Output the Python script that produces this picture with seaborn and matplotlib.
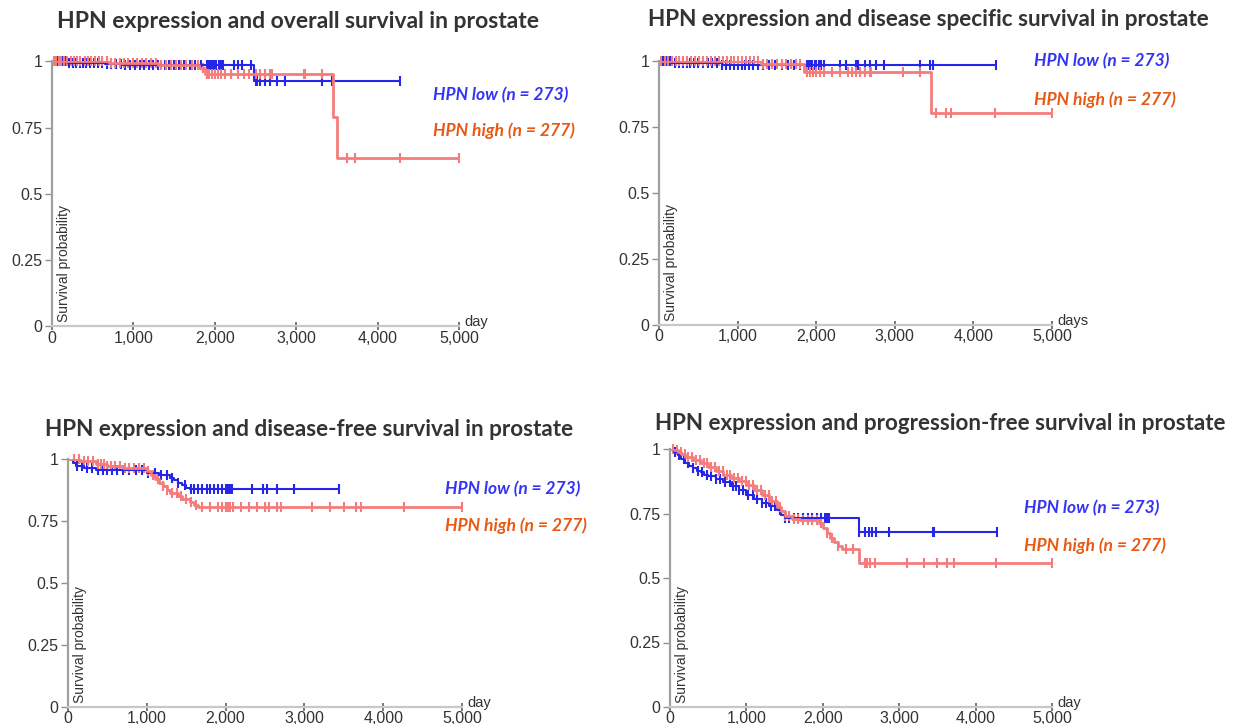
import numpy as np
import pandas as pd
import matplotlib
matplotlib.use("Agg")
import matplotlib.pyplot as plt
import seaborn as sns

# ---------------- data ----------------
titles = [
    "HPN expression and overall survival in prostate",
    "HPN expression and disease specific survival in prostate",
    "HPN expression and disease-free survival in prostate",
    "HPN expression and progression-free survival in prostate",
]
label_low = "HPN low (n = 273)"
label_high = "HPN high (n = 277)"
x_ticks = [0, 1000, 2000, 3000, 4000, 5000]
x_ticklabels = ["0", "1,000", "2,000", "3,000", "4,000", "5,000"]
y_ticks = [0, 0.25, 0.5, 0.75, 1]
y_ticklabels = ["0", "0.25", "0.5", "0.75", "1"]
day_labels = ["day", "days", "day", "day"]

# Overall survival
os_low_t = [0, 200, 650, 870, 1350, 2480]
os_low_s = [1.0, 0.995, 0.99, 0.987, 0.985, 0.925]
os_low_end = 4280
os_low_cens = [30, 60, 90, 130, 170, 210, 260, 300, 340, 380, 420, 470, 520, 560, 610, 680,
               730, 790, 850, 900, 960, 1020, 1080, 1130, 1190, 1240, 1300, 1390, 1440, 1500,
               1560, 1620, 1700, 1760, 1830, 1900, 1920, 1940, 1960, 1980, 2000, 2020, 2050,
               2080, 2100, 2230, 2290, 2340, 2450, 2500, 2520, 2560, 2620, 2680, 2760, 2860,
               3320, 3440, 4280]
os_high_t = [0, 700, 1300, 1800, 1880, 3450, 3500]
os_high_s = [1.0, 0.993, 0.985, 0.975, 0.952, 0.79, 0.635]
os_high_end = 5000
os_high_cens = [20, 50, 80, 110, 150, 190, 230, 270, 310, 350, 400, 440, 480, 530, 580, 620,
                680, 720, 780, 830, 880, 930, 990, 1050, 1100, 1160, 1220, 1280, 1340, 1400,
                1460, 1520, 1580, 1650, 1720, 1790, 1860, 1900, 1930, 1960, 2000, 2040, 2080,
                2120, 2200, 2280, 2360, 2420, 2500, 2560, 2620, 2680, 2700, 3100, 3110, 3320,
                3620, 3720, 4270, 5000]

# Disease specific survival
dss_low_t = [0, 150, 800]
dss_low_s = [1.0, 0.995, 0.988]
dss_low_end = 4285
dss_low_cens = [50, 90, 140, 200, 250, 300, 350, 400, 450, 500, 560, 620, 680, 740, 800,
                850, 900, 950, 1000, 1050, 1100, 1150, 1200, 1260, 1320, 1400, 1480, 1560,
                1640, 1720, 1800, 1880, 1900, 1920, 1950, 1980, 2000, 2030, 2060, 2100, 2300,
                2380, 2500, 2530, 2620, 2680, 2760, 2860, 3320, 3450, 3480, 4285]
dss_high_t = [0, 1300, 1850, 3460]
dss_high_s = [1.0, 0.99, 0.962, 0.804]
dss_high_end = 5000
dss_high_cens = [30, 70, 110, 160, 210, 260, 310, 360, 410, 460, 510, 560, 610, 660, 710,
                 760, 810, 860, 910, 960, 1010, 1060, 1110, 1160, 1210, 1260, 1320, 1380,
                 1440, 1500, 1560, 1620, 1680, 1740, 1800, 1880, 1920, 1960, 2000, 2050, 2100,
                 2200, 2300, 2400, 2450, 2500, 2560, 2620, 2680, 2700, 3100, 3320, 3520,
                 3650, 3720, 4270, 5000]

# Disease-free survival
dfs_low_t = [0, 60, 100, 200, 350, 1000, 1150, 1300, 1350, 1400, 1450, 1500, 1550]
dfs_low_s = [1.0, 0.985, 0.973, 0.965, 0.955, 0.945, 0.935, 0.925, 0.915, 0.905, 0.895,
             0.885, 0.878]
dfs_low_end = 3440
dfs_low_cens = [120, 180, 240, 300, 380, 440, 500, 560, 620, 700, 780, 860, 940, 1020, 1100,
                1180, 1260, 1320, 1400, 1480, 1560, 1600, 1650, 1700, 1760, 1800, 1850, 1900,
                1950, 2000, 2030, 2060, 2080, 2330, 2480, 2530, 2650, 2870, 3440]
dfs_high_t = [0, 150, 350, 500, 700, 1000, 1050, 1100, 1150, 1200, 1250, 1300, 1400, 1450,
              1550, 1600, 1650]
dfs_high_s = [1.0, 0.99, 0.98, 0.973, 0.962, 0.95, 0.935, 0.92, 0.905, 0.89, 0.875, 0.862,
              0.85, 0.838, 0.825, 0.815, 0.808]
dfs_high_end = 5000
dfs_high_cens = [80, 140, 200, 260, 320, 380, 420, 460, 500, 540, 600, 660, 720, 780, 840,
                 900, 960, 1020, 1080, 1140, 1200, 1260, 1320, 1380, 1440, 1500, 1560, 1620,
                 1700, 1800, 1900, 1950, 2000, 2030, 2060, 2100, 2200, 2300, 2400, 2500, 2550,
                 2650, 2700, 3100, 3320, 3500, 3650, 3720, 4270, 5000]

# Progression-free survival
pfs_low_t = [0, 50, 100, 150, 200, 250, 300, 350, 400, 450, 500, 600, 700, 800, 900, 1000,
             1100, 1200, 1300, 1400, 1450, 1500, 2480]
pfs_low_s = [1.0, 0.99, 0.975, 0.96, 0.945, 0.935, 0.925, 0.915, 0.91, 0.9, 0.895, 0.885,
             0.872, 0.858, 0.84, 0.82, 0.805, 0.79, 0.78, 0.765, 0.745, 0.732, 0.678]
pfs_low_end = 4280
pfs_low_cens = [60, 120, 180, 240, 300, 360, 420, 480, 540, 600, 660, 720, 780, 820, 860, 900,
                960, 1020, 1080, 1140, 1200, 1260, 1320, 1380, 1440, 1500, 1560, 1620, 1680,
                1740, 1800, 1860, 1920, 1980, 2030, 2060, 2080, 2480, 2550, 2600, 2650, 2700,
                2870, 3440, 3460, 4280]
pfs_high_t = [0, 50, 100, 150, 200, 300, 400, 500, 600, 700, 800, 900, 1000, 1100, 1200,
              1300, 1400, 1450, 1500, 1600, 1700, 1950, 2000, 2050, 2100, 2150, 2200, 2250,
              2480]
pfs_high_s = [1.0, 0.995, 0.99, 0.98, 0.97, 0.958, 0.945, 0.93, 0.915, 0.9, 0.888, 0.875,
              0.86, 0.84, 0.82, 0.8, 0.775, 0.76, 0.742, 0.73, 0.725, 0.712, 0.695, 0.673,
              0.655, 0.64, 0.625, 0.614, 0.557]
pfs_high_end = 5000
pfs_high_cens = [40, 90, 140, 190, 240, 290, 340, 390, 440, 490, 540, 590, 640, 690, 740, 790,
                 840, 890, 940, 990, 1040, 1090, 1140, 1190, 1240, 1290, 1340, 1390, 1440,
                 1500, 1560, 1620, 1680, 1740, 1800, 1860, 1920, 1980, 2050, 2120, 2200, 2300,
                 2400, 2550, 2580, 2620, 2680, 3100, 3330, 3500, 3620, 3720, 4270, 5000]

# ---------------- layout (pixels in the 1235x724 canvas) ----------------
W, H = 1235, 724
# (x of 0, x of 5000, y of 1, y of 0)
ax_px = [(52, 459, 61.5, 326.5), (659, 1052, 61.5, 325), (68, 462, 459, 707), (670, 1052, 449, 707)]
title_px = [(57, 543, 22), (648, 1212, 20), (45, 578, 430), (655, 1227, 424)]
low_lab_px = [(433, 569, 95), (1034, 1170, 61), (445, 581, 489), (1024, 1160, 508)]
high_lab_px = [(433, 575, 131), (1034, 1176, 100), (445, 587, 526), (1024, 1166, 546)]

groups = [
    ((os_low_t, os_low_s, os_low_end, os_low_cens), (os_high_t, os_high_s, os_high_end, os_high_cens)),
    ((dss_low_t, dss_low_s, dss_low_end, dss_low_cens), (dss_high_t, dss_high_s, dss_high_end, dss_high_cens)),
    ((dfs_low_t, dfs_low_s, dfs_low_end, dfs_low_cens), (dfs_high_t, dfs_high_s, dfs_high_end, dfs_high_cens)),
    ((pfs_low_t, pfs_low_s, pfs_low_end, pfs_low_cens), (pfs_high_t, pfs_high_s, pfs_high_end, pfs_high_cens)),
]

BLUE = "#2626e6"
RED = "#f47c7c"
TXT_BLUE = "#3434f5"
TXT_ORANGE = "#e65a14"
TITLE_C = "#333333"

sns.set_theme(style="white")
plt.rcParams["font.family"] = ["Liberation Sans", "DejaVu Sans"]

fig = plt.figure(figsize=(W / 100, H / 100), dpi=100)
fig.patch.set_facecolor("white")


def step_frame(t, s, end):
    tt = list(t) + [end]
    ss = list(s) + [s[-1]]
    return pd.DataFrame({"day": tt, "surv": ss})


def cens_frame(t, s, cens):
    t = np.asarray(t, float)
    s = np.asarray(s, float)
    c = np.asarray(cens, float)
    idx = np.searchsorted(t, c, side="right") - 1
    return pd.DataFrame({"day": c, "surv": s[idx]})


fit_list = []
for i in range(4):
    x0, x1, y1, y0 = ax_px[i]
    rect = [x0 / W, 1 - y0 / H, (x1 - x0) / W, (y0 - y1) / H]
    ax = fig.add_axes(rect)
    ax.set_facecolor("none")
    (lt, ls, le, lc), (ht, hs, he, hc) = groups[i]
    for (t, s, e, c), col, lw in [((lt, ls, le, lc), BLUE, 1.5), ((ht, hs, he, hc), RED, 2.0)]:
        sns.lineplot(data=step_frame(t, s, e), x="day", y="surv", ax=ax, color=col,
                     linewidth=lw, drawstyle="steps-post", estimator=None, sort=False,
                     legend=False)
        sns.scatterplot(data=cens_frame(t, s, c), x="day", y="surv", ax=ax, color=col,
                        marker="|", s=45, linewidth=1.5, legend=False, clip_on=False)
    ax.set_xlim(0, 5000)
    ax.set_ylim(0, 1)
    ax.set_xlabel("")
    ax.set_ylabel("")
    ax.set_xticks(x_ticks)
    ax.set_xticklabels(x_ticklabels)
    ax.set_yticks(y_ticks)
    ax.set_yticklabels(y_ticklabels)
    for sp in ["top", "right"]:
        ax.spines[sp].set_visible(False)
    ax.spines["left"].set_color("#a0a0a0")
    ax.spines["left"].set_linewidth(1.6)
    ax.spines["bottom"].set_color("#c8c8c8")
    ax.spines["bottom"].set_linewidth(1.6)
    ax.tick_params(axis="y", left=True, length=5, width=1, color="#909090",
                   labelsize=11.5, labelcolor="#333333", pad=2)
    ax.tick_params(axis="x", bottom=True, direction="inout", length=6, width=1.2,
                   color="#606060", labelsize=11.5, labelcolor="#333333", pad=0)
    ax.text(5 / (x1 - x0), 4 / (y0 - y1), "Survival probability", transform=ax.transAxes,
            rotation=90, ha="left", va="bottom", fontsize=10, color="#333333")
    ax.annotate(day_labels[i], xy=(1, 0), xycoords="axes fraction", xytext=(4, 3),
                textcoords="offset points", ha="left", va="center", fontsize=10.5,
                color="#333333", annotation_clip=False)
    tx0, tx1, ty = title_px[i]
    tt = fig.text(tx0 / W, 1 - ty / H, titles[i], ha="left", va="center", fontsize=14,
                  fontweight="bold", color=TITLE_C, family=["Lato", "DejaVu Sans"])
    fit_list.append((tt, tx1 - tx0))
    lx0, lx1, ly = low_lab_px[i]
    tl = fig.text(lx0 / W, 1 - ly / H, label_low, ha="left", va="center", fontsize=11,
                  fontweight="bold", fontstyle="italic", color=TXT_BLUE,
                  family=["Lato", "DejaVu Sans"])
    fit_list.append((tl, lx1 - lx0))
    hx0, hx1, hy = high_lab_px[i]
    th = fig.text(hx0 / W, 1 - hy / H, label_high, ha="left", va="center", fontsize=11,
                  fontweight="bold", fontstyle="italic", color=TXT_ORANGE,
                  family=["Lato", "DejaVu Sans"])
    fit_list.append((th, hx1 - hx0))

fig.canvas.draw()
rend = fig.canvas.get_renderer()
for obj, target in fit_list:
    w = obj.get_window_extent(rend).width
    obj.set_fontsize(obj.get_fontsize() * target / w)

fig.savefig("out.png", dpi=100, facecolor="white")
